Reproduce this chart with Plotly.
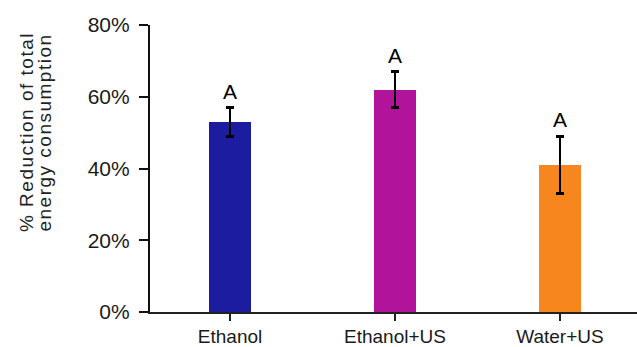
import plotly.graph_objects as go

# Treatment groups and measured reductions (%)
categories = ["Ethanol", "Ethanol+US", "Water+US"]
reduction = [53, 62, 41]
reduction_sd = [4, 5, 8]
group_letters = ["A", "A", "A"]
bar_colors = ["#1c1ca0", "#b1139b", "#f8861e"]
y_ticks = [0, 20, 40, 60, 80]
y_tick_labels = [f"{v}%" for v in y_ticks]

FONT = "Liberation Sans, Arial, sans-serif"
INK = "#1a1a1a"

fig = go.Figure()
fig.add_trace(go.Bar(
    x=categories,
    y=reduction,
    width=0.25,
    marker=dict(color=bar_colors, line=dict(width=0)),
    error_y=dict(type="data", array=reduction_sd, visible=True,
                 color="#000000", thickness=2.8, width=4),
    showlegend=False,
))

# Significance letters above each error bar
for cat, val, sd, letter in zip(categories, reduction, reduction_sd, group_letters):
    fig.add_annotation(x=cat, y=val + sd, text=letter, showarrow=False,
                       xref="x", yref="y", yanchor="bottom", yshift=3,
                       font=dict(family=FONT, size=21, color="#000000"))

# Two-line rotated y-axis title
title_lines = ["% Reduction of total", "energy consumption"]
title_x = [-0.2546, -0.2177]
for line, xp in zip(title_lines, title_x):
    fig.add_annotation(x=xp, y=0.627, xref="paper", yref="paper",
                       text=line, textangle=-90, showarrow=False,
                       xanchor="center", yanchor="middle",
                       font=dict(family=FONT, size=19, color="#222222"))

fig.update_layout(
    width=637, height=347,
    margin=dict(l=150, r=0, t=25, b=35),
    paper_bgcolor="white", plot_bgcolor="white",
    bargap=0,
    font=dict(family=FONT, color=INK),
)
fig.update_xaxes(
    range=[-0.485, 2.467],
    automargin=False,
    showline=True, linecolor="#222222", linewidth=2,
    ticks="outside", ticklen=7, tickwidth=2, tickcolor="#222222",
    tickfont=dict(family=FONT, size=19, color=INK),
    ticklabelstandoff=-1,
    showgrid=False, zeroline=False,
)
fig.update_yaxes(
    range=[0, 80],
    automargin=False,
    tickvals=y_ticks, ticktext=y_tick_labels,
    showline=True, linecolor="#111111", linewidth=2.2,
    ticks="outside", ticklen=9, tickwidth=2, tickcolor="#111111",
    tickfont=dict(family=FONT, size=21, color=INK),
    ticklabelstandoff=5,
    showgrid=False, zeroline=False,
)

# Widen the letter spacing of the rotated title lines
spacing_js = """
var anns = document.querySelectorAll('g.annotation');
anns.forEach(function(g) {
  var idx = g.getAttribute('data-index');
  if (idx === '3' || idx === '4') {
    var t = g.querySelector('text.annotation-text');
    if (t) { t.style.letterSpacing = '1.5px'; }
  }
});
"""

fig.write_html("out.html", post_script=spacing_js)
